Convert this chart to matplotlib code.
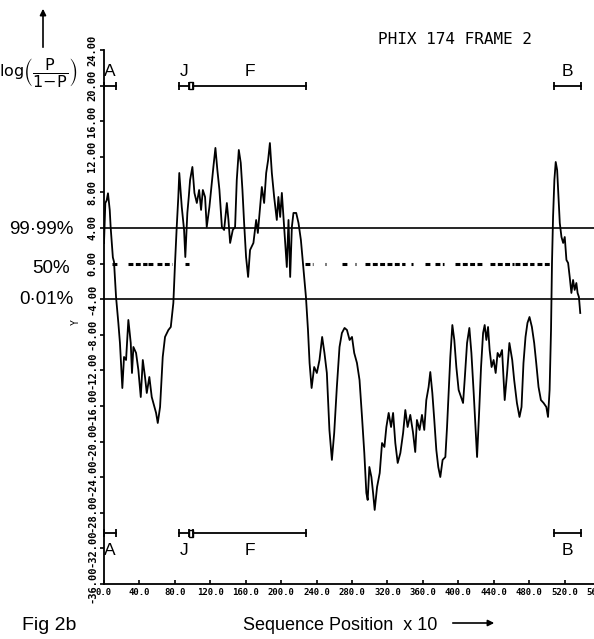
import matplotlib
matplotlib.use("Agg")
import matplotlib.pyplot as plt
from matplotlib.patches import Rectangle

# =========================================================
# data
# =========================================================
seq_pos = [0, 1.5, 3, 4.5, 6.5, 7.5, 10, 11.3, 13.6, 16.2, 18, 20.7, 22.6, 24.9,
           27.5, 30.2, 31.6, 33.2, 36.2, 38.8, 41.5, 43.8, 46.3, 48.3, 51.2, 53.9,
           55.7, 58.8, 60.7, 63.3, 66.3, 68.9, 72.7, 75.4, 78.3, 80.2, 82.1, 83.9,
           85.0, 87.8, 90.4, 91.8, 94.1, 95.7, 97.2, 99.8, 102.1, 104.8, 107.4,
           109.6, 111.6, 114.1, 116.0, 119.0, 121.7, 123.5, 125.8, 128.0, 130.3,
           133.1, 135.6, 138.7, 140.5, 142.4, 145.4, 148.0, 149.9, 152.2, 154.4,
           156.3, 158.2, 160.4, 162.7, 164.9, 168.7, 171.8, 173.7, 176.3, 178.2,
           180.8, 183.1, 185.3, 187.3, 189.5, 192.1, 195.1, 196.9, 198.9, 200.8,
           202.6, 204.9, 206.4, 208.3, 210.2, 212.1, 213.9, 217.0, 219.6, 222.3,
           225.3, 228.0, 230.3, 232.1, 234.4, 237.3, 240.3, 243.3, 246.3, 248.9,
           251.6, 254.5, 257.3, 259.9, 262.9, 265.9, 268.6, 271.6, 274.3, 277.3,
           280.0, 282.5, 285.6, 288.5, 291.3, 293.9, 296.2, 297.7, 299.6, 301.9,
           303.8, 305.6, 308.3, 311.3, 313.9, 316.6, 318.8, 321.4, 324.1, 326.4,
           328.9, 331.6, 334.6, 337.7, 340.2, 342.8, 345.8, 348.8, 351.4, 353.3,
           356.3, 359.0, 361.6, 363.9, 366.5, 368.4, 370.7, 372.9, 375.2, 377.4,
           379.7, 382.3, 385.4, 387.3, 389.1, 391.0, 393.3, 395.5, 397.8, 400.4,
           403.1, 405.4, 407.2, 409.9, 412.5, 414.8, 417.4, 419.7, 421.2, 423.5,
           425.7, 428.0, 429.8, 431.7, 433.6, 435.4, 437.6, 439.9, 442.2, 444.4,
           446.7, 449.4, 452.4, 455.1, 457.7, 460.9, 463.1, 466.2, 469.1, 471.4,
           473.6, 475.9, 478.1, 480.4, 483.1, 485.7, 488.0, 490.6, 493.3, 496.3,
           499.4, 501.3, 503.1, 504.7, 505.8, 507.0, 508.5, 510.0, 511.6, 513.1,
           514.6, 516.5, 518.4, 520.2, 522.1, 524.0, 525.8, 527.7, 529.6, 531.4,
           533.3, 534.7, 536.2, 537.7]
log_odds = [2.3, 6.8, 7.1, 7.9, 6.0, 4.1, 0.7, 0.2, -3.75, -6.67, -8.92, -13.98,
            -10.49, -10.83, -6.33, -8.92, -12.29, -9.37, -10.04, -11.95, -14.99,
            -10.83, -12.74, -14.54, -12.74, -14.99, -15.66, -16.78, -17.91, -16.11,
            -10.49, -8.24, -7.46, -7.12, -4.42, 0.07, 4.11, 7.49, 10.18, 6.36, 3.78,
            0.74, 5.69, 7.49, 9.40, 10.86, 7.94, 6.81, 8.27, 6.03, 8.27, 7.49, 4.11,
            6.36, 9.06, 10.86, 13.0, 10.5, 8.3, 4.11, 3.78, 6.81, 4.90, 2.32, 3.78,
            4.11, 9.40, 12.77, 11.31, 8.27, 4.56, 0.74, -1.50, 1.53, 2.32, 4.90,
            3.44, 6.36, 8.61, 6.81, 10.18, 11.64, 13.55, 10.18, 7.49, 4.90, 7.49,
            5.24, 7.94, 5.24, 1.87, -0.38, 4.90, -1.50, 4.11, 5.69, 5.69, 4.56, 2.65,
            -0.72, -3.75, -7.46, -11.17, -13.98, -11.62, -12.29, -10.83, -8.24,
            -10.04, -12.29, -18.69, -22.06, -19.03, -13.86, -9.37, -7.80, -7.23,
            -7.46, -8.58, -8.24, -10.04, -11.17, -13.08, -17.23, -21.28, -25.77,
            -26.56, -22.85, -23.98, -25.77, -27.68, -25.10, -23.53, -20.16, -20.60,
            -18.36, -16.78, -18.36, -16.78, -20.16, -22.40, -21.28, -19.03, -16.45,
            -18.36, -17.0, -18.92, -21.17, -17.57, -18.69, -17.0, -18.69, -15.33,
            -13.86, -12.18, -14.54, -17.57, -20.94, -22.85, -23.98, -22.06, -21.73,
            -18.36, -14.54, -10.49, -6.90, -8.58, -11.62, -14.20, -14.99, -15.66,
            -13.08, -8.92, -7.23, -10.04, -14.54, -19.03, -21.73, -16.78, -11.62,
            -7.80, -6.90, -8.58, -7.12, -9.71, -11.62, -10.83, -12.29, -10.04,
            -10.49, -9.71, -15.33, -12.29, -8.92, -10.83, -13.08, -15.66, -17.23,
            -16.11, -11.17, -8.24, -6.67, -6.00, -7.12, -8.92, -11.17, -13.86,
            -15.33, -15.66, -16.11, -17.23, -14.20, -7.46, 0.07, 5.24, 9.40, 11.42,
            10.52, 7.49, 4.56, 2.99, 2.32, 2.99, 0.41, 0.07, -1.50, -3.30, -1.84,
            -2.96, -2.18, -3.30, -3.75, -5.55]

# 50% marks (start, end of each run of dots)
dot_start = [8.7, 27.4, 50.0, 60.2, 91.5, 227.0, 249.0, 268.6, 283.0, 295.0,
             347.0, 362.7, 374.0, 396.6, 436.0, 464.4, 489.0]
dot_end = [16.1, 48.2, 57.6, 76.5, 96.4, 236.5, 250.5, 274.1, 284.5, 340.0,
           348.5, 368.4, 383.4, 428.6, 462.5, 485.0, 504.0]

# thresholds, log10(P/(1-P))
level_hi = 4.0     # 99.99 %
level_mid = 0.0    # 50 %
level_lo = -4.0    # 0.01 %

# genes (sequence position x 10)
gene_names = ["A", "J", "F", "B"]
gene_start = [0.0, 84.8, 100.1, 507.5]
gene_end = [13.6, 96.4, 228.4, 538.6]

y_ticks = [24, 20, 16, 12, 8, 4, 0, -4, -8, -12, -16, -20, -24, -28, -32, -36]
x_ticks = [0, 40, 80, 120, 160, 200, 240, 280, 320, 360, 400, 440, 480, 520, 560]

# =========================================================
# plotting
# =========================================================
W, H = 594, 639
fig = plt.figure(figsize=(W / 100, H / 100), dpi=100)
ax = fig.add_axes([104 / W, 55 / H, 496 / W, 534 / H])


def px(x, y):
    # figure fraction from pixel position (top-left origin)
    return x / W, 1 - y / H


ax.plot(seq_pos, log_odds, color="black", lw=1.3)
ax.axhline(level_hi, color="black", lw=1.2)
ax.axhline(level_lo, color="black", lw=1.2)
ax.hlines([level_mid] * len(dot_start), dot_start, dot_end, color="black",
          lw=2.2, linestyles=(0, (1.6, 0.8)))

# gene map, top and bottom
for y_bar, y_txt in [(20.0, 21.1), (-30.3, -32.7)]:
    for name, s, e in zip(gene_names, gene_start, gene_end):
        ax.plot([s, e], [y_bar, y_bar], color="black", lw=1.3, clip_on=False)
        ax.vlines([s, e], y_bar - 0.45, y_bar + 0.45, color="black", lw=1.3,
                  clip_on=False)
        ax.text((s + e) / 2, y_txt, name, ha="center", va="baseline",
                fontsize=12.5, family="Liberation Sans")
    ax.add_patch(Rectangle((gene_end[1], y_bar - 0.4), gene_start[2] - gene_end[1],
                           0.8, fill=False, lw=1.0, clip_on=False))

ax.set_xlim(0, 560)
ax.set_ylim(-36, 24)
ax.set_yticks(y_ticks)
ax.set_yticklabels([f"{v:.2f}" for v in y_ticks], rotation=90, va="center",
                   family="DejaVu Sans Mono", fontweight="bold", fontsize=7.5)
ax.set_xticks(x_ticks)
ax.set_xticklabels([f"{v:.1f}" for v in x_ticks], family="DejaVu Sans Mono",
                   fontweight="bold", fontsize=6.5)
ax.tick_params(axis="y", direction="out", length=3, width=1.2, pad=2)
ax.tick_params(axis="x", direction="in", length=3, width=1.2, pad=3)
for side in ["top", "right"]:
    ax.spines[side].set_visible(False)
for side in ["left", "bottom"]:
    ax.spines[side].set_linewidth(1.3)

# text around the plot
fig.text(*px(378, 40), "PHIX 174 FRAME 2", family="DejaVu Sans Mono",
         fontsize=11.5, va="center", ha="left")
fig.text(*px(76, 322), "Y", rotation=90, va="center", ha="center",
         family="DejaVu Sans Mono", fontsize=7)
fig.text(*px(78, 72), r"$\mathrm{log}\left(\dfrac{\mathrm{P}}{\mathrm{1\!-\!P}}\right)$",
         ha="right", va="center", fontsize=11.5)
fig.text(*px(73, 229), "99\u00b799%", ha="right", va="center", fontsize=13.5,
         family="Liberation Sans")
fig.text(*px(70, 268), "50%", ha="right", va="center", fontsize=13.5,
         family="Liberation Sans")
fig.text(*px(73, 300), "0\u00b701%", ha="right", va="center", fontsize=13.5,
         family="Liberation Sans")
fig.text(*px(22, 626), "Fig 2b", ha="left", va="center", fontsize=14,
         family="Liberation Sans")
fig.text(*px(243, 626), "Sequence Position  x 10", ha="left", va="center",
         fontsize=13, family="Liberation Sans")
ax.annotate("", xy=px(497, 623), xytext=px(450, 623), xycoords="figure fraction",
            arrowprops=dict(arrowstyle="-|>", color="black", lw=1.2,
                            mutation_scale=9), annotation_clip=False)
ax.annotate("", xy=px(43, 6), xytext=px(43, 50), xycoords="figure fraction",
            arrowprops=dict(arrowstyle="-|>", color="black", lw=1.2,
                            mutation_scale=9), annotation_clip=False)

plt.savefig("out.png", dpi=100)
